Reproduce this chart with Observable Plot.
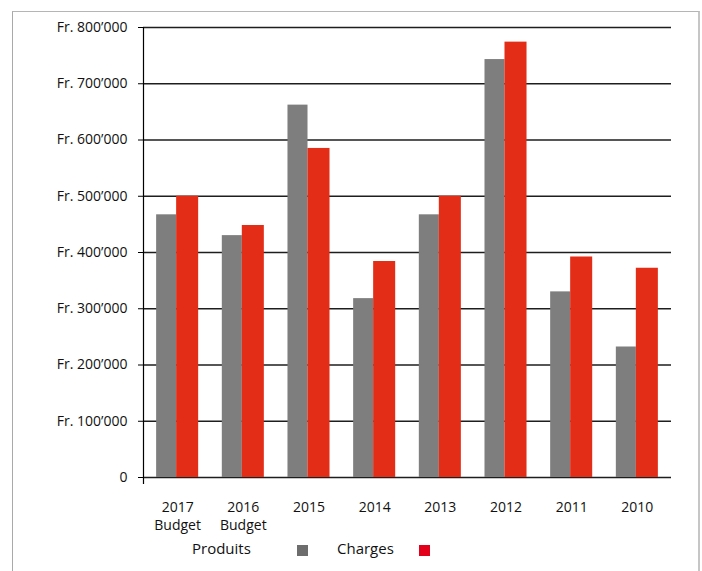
<!DOCTYPE html>
<html>
<head>
<meta charset="utf-8">
<script src="https://cdn.jsdelivr.net/npm/d3@7"></script>
<script src="https://cdn.jsdelivr.net/npm/@observablehq/plot@0.6"></script>
<style>
  html, body { margin: 0; padding: 0; background: #fff; overflow: hidden; }
  #wrap { position: relative; width: 702px; height: 571px; }
  #border { position: absolute; left: 12px; top: 11px; width: 685px; height: 620px;
            border-left: 1px solid #a9a9a9; border-top: 1px solid #b5b5b5; border-right: 2px solid #c6c6c6;
            pointer-events: none; }
  #legend { position: relative; height: 36px; font-family: "Open Sans", sans-serif; font-size: 15px; color: #111; }
  #legend .lbl { position: absolute; top: 2px; line-height: 22px; white-space: nowrap; }
  #legend .sw { position: absolute; top: 10px; width: 11px; height: 11px; }
  svg { display: block; }
</style>
</head>
<body>
<div id="wrap">
  <div id="chart"></div>
  <div id="legend"></div>
  <div id="border"></div>
</div>
<script>
// ---- data ----
const categories = ["2017\nBudget", "2016\nBudget", "2015", "2014", "2013", "2012", "2011", "2010"];
const produits = [467000, 430000, 662000, 318000, 467000, 743000, 330000, 232000];
const charges  = [500000, 448000, 585000, 384000, 500000, 774000, 392000, 372000];
const seriesNames = ["Produits", "Charges"];
const yTicks = [0, 100000, 200000, 300000, 400000, 500000, 600000, 700000, 800000];

// ---- styles ----
const greyBar = "#7e7e7e", redBar = "#e42d17";
const greySwatch = "#6d6d6d", redSwatch = "#e2001a";

const rows = categories.map((c, i) => ({cat: c, produits: produits[i], charges: charges[i]}));
const fmt = d => d === 0 ? "0" : `Fr. ${d / 1000}\u2019000`;

const chart = Plot.plot({
  width: 702,
  height: 535,
  marginLeft: 143,
  marginRight: 31,
  marginTop: 27,
  marginBottom: 58,
  style: {fontFamily: "Open Sans, sans-serif", fontSize: "14px", color: "#111", background: "transparent"},
  x: {domain: categories, paddingInner: 0.36, paddingOuter: 0.2, round: false},
  y: {domain: [0, 800000]},
  marks: [
    Plot.ruleY(yTicks, {stroke: "#1e1e1e", strokeWidth: 1.3}),
    Plot.barY(rows, {x: "cat", y: "produits", fill: greyBar, insetRight: 22}),
    Plot.barY(rows, {x: "cat", y: "charges", fill: redBar, insetLeft: 20}),
    Plot.frame({anchor: "left", insetBottom: -6, stroke: "#000", strokeWidth: 1.2}),
    Plot.axisY({ticks: yTicks, tickFormat: fmt, tickSize: 5, tickPadding: 11, label: null, fontSize: 14, stroke: "#000"}),
    Plot.axisX({tickSize: 0, tickPadding: 21, label: null, fontSize: 14, lineHeight: 1.33})
  ]
});
document.getElementById("chart").appendChild(chart);

// ---- legend ----
const legend = document.getElementById("legend");
const legendItems = [
  {name: seriesNames[0], color: greySwatch, textX: 192, swX: 297},
  {name: seriesNames[1], color: redSwatch, textX: 337, swX: 419}
];
for (const it of legendItems) {
  const t = document.createElement("span");
  t.className = "lbl"; t.textContent = it.name; t.style.left = it.textX + "px";
  legend.appendChild(t);
  const s = document.createElement("span");
  s.className = "sw"; s.style.left = it.swX + "px"; s.style.background = it.color;
  legend.appendChild(s);
}
</script>
</body>
</html>
